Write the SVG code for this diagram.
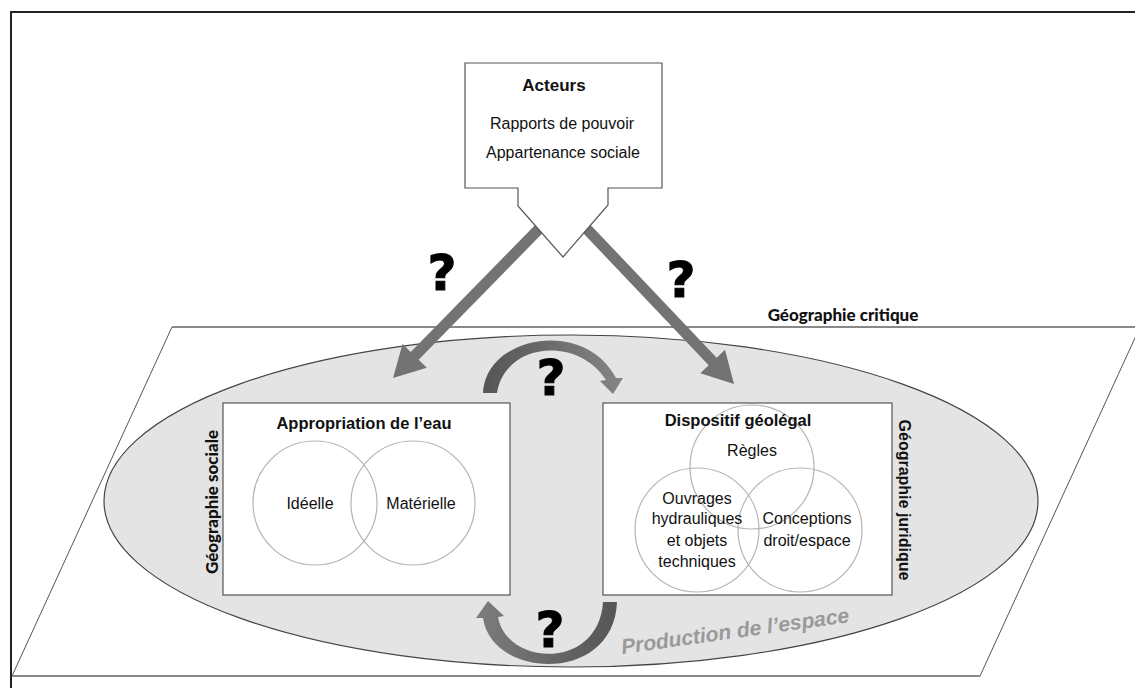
<svg xmlns="http://www.w3.org/2000/svg" width="1135" height="688" viewBox="0 0 1135 688">
  <style>
    .frame { fill: none; stroke: #222; stroke-width: 2; }
    .plane-side { fill: #fff; stroke: #555; stroke-width: 1; }
    .plane-edge { stroke: #888; stroke-width: 2; fill: none; }
    .zone { fill: #e4e4e4; stroke: #444; stroke-width: 1.2; }
    .box { fill: #fff; stroke: #555; stroke-width: 1.2; }
    .venn { fill: none; stroke: #b4b4b4; stroke-width: 1.2; }
    .title { font-family: "Liberation Sans", Arial, sans-serif; font-weight: bold; font-size: 16.5px; fill: #111; text-anchor: middle; }
    .lbl { font-family: "Liberation Sans", Arial, sans-serif; font-size: 16px; fill: #111; text-anchor: middle; }
    .geo { font-family: Lato, "Open Sans", sans-serif; font-weight: 900; font-size: 17px; fill: #111; text-anchor: middle; }
    .geoj { font-family: "Liberation Sans", Arial, sans-serif; font-weight: bold; font-size: 16px; fill: #111; text-anchor: middle; }
    .q { font-family: "DejaVu Sans", sans-serif; font-weight: bold; font-size: 50px; fill: #000; stroke: #000; stroke-width: 1; text-anchor: middle; }
    .arrow { fill: #737373; }
    .prod { font-family: "Liberation Sans", Arial, sans-serif; font-weight: bold; font-style: italic; font-size: 21px; fill: #9a9a9a; text-anchor: middle; }
  </style>
  <defs>
    <linearGradient id="gTop" x1="0" y1="0" x2="1" y2="0">
      <stop offset="0" stop-color="#555"/>
      <stop offset="1" stop-color="#858585"/>
    </linearGradient>
    <linearGradient id="gBot" x1="1" y1="0" x2="0" y2="0">
      <stop offset="0" stop-color="#555"/>
      <stop offset="1" stop-color="#7c7c7c"/>
    </linearGradient>
  </defs>
  <rect width="1135" height="688" fill="#fff"/>
  <path class="frame" d="M 11,688 V 12 H 1135"/>

  <g id="plane">
    <polygon class="plane-side" points="172,327 1140,327 980,676 12,676"/>
    <line class="plane-edge" x1="172" y1="327" x2="1135" y2="327"/>
    <line class="plane-edge" x1="12" y1="676" x2="980" y2="676"/>
    <text class="geo" x="843" y="321">Géographie critique</text>
  </g>

  <g id="production">
    <ellipse class="zone" cx="571" cy="501" rx="467" ry="166"/>
    <text class="prod" transform="translate(736,638) rotate(-8)">Production de l’espace</text>
  </g>

  <g id="geo-sociale">
    <text class="geo" transform="translate(218,502) rotate(-90)">Géographie sociale</text>
  </g>
  <g id="geo-juridique">
    <text class="geoj" transform="translate(899,500) rotate(90)">Géographie juridique</text>
  </g>

  <g id="appropriation">
    <rect class="box" x="223" y="403" width="287" height="192"/>
    <text class="title" x="364" y="429">Appropriation de l’eau</text>
    <circle class="venn" cx="315" cy="503" r="62"/>
    <circle class="venn" cx="413" cy="503" r="62"/>
    <text class="lbl" x="310" y="509">Idéelle</text>
    <text class="lbl" x="421" y="509">Matérielle</text>
  </g>

  <g id="dispositif">
    <rect class="box" x="603" y="403" width="289" height="192"/>
    <circle class="venn" cx="752" cy="467" r="62"/>
    <circle class="venn" cx="697" cy="530" r="62"/>
    <circle class="venn" cx="800" cy="530" r="62"/>
    <text class="title" x="738" y="426">Dispositif géolégal</text>
    <text class="lbl" x="752" y="456">Règles</text>
    <text class="lbl" x="697" y="504">Ouvrages</text>
    <text class="lbl" x="697" y="524">hydrauliques</text>
    <text class="lbl" x="697" y="546">et objets</text>
    <text class="lbl" x="697" y="567">techniques</text>
    <text class="lbl" x="807" y="524">Conceptions</text>
    <text class="lbl" x="807" y="546">droit/espace</text>
  </g>

  <g id="connectors">
    <path class="arrow" transform="translate(393,378) rotate(134.4)" d="M -215,-5.5 H -31 V -17 L 0,0 L -31,17 V 5.5 H -215 Z"/>
    <path class="arrow" transform="translate(734,384) rotate(46.5)" d="M -220,-5.5 H -31 V -17 L 0,0 L -31,17 V 5.5 H -220 Z"/>
    <path fill="url(#gTop)" d="M 483,393 C 486,335 585,318 616,378 L 623,378 L 613,394 L 600,381 L 606,380 C 578,336 505,342 497,393 Z"/>
    <path fill="url(#gBot)" d="M 617,602 C 614,684 492,680 483,618 L 476,618 L 488,601 L 504,616 L 498,617 C 507,667 599,670 603,602 Z"/>
  </g>

  <g id="acteurs">
    <path class="box" d="M 465,63 H 662 V 188 H 608 V 205 L 563,257 L 518,206 V 188 H 465 Z"/>
    <text class="title" x="554" y="91" style="font-size:17px">Acteurs</text>
    <text class="lbl" x="562" y="129">Rapports de pouvoir</text>
    <text class="lbl" x="563" y="158">Appartenance sociale</text>
  </g>

  <g id="questions">
    <text class="q" x="442" y="290">?</text>
    <text class="q" x="681" y="297">?</text>
    <text class="q" x="551" y="395">?</text>
    <text class="q" x="550" y="647">?</text>
  </g>
</svg>
